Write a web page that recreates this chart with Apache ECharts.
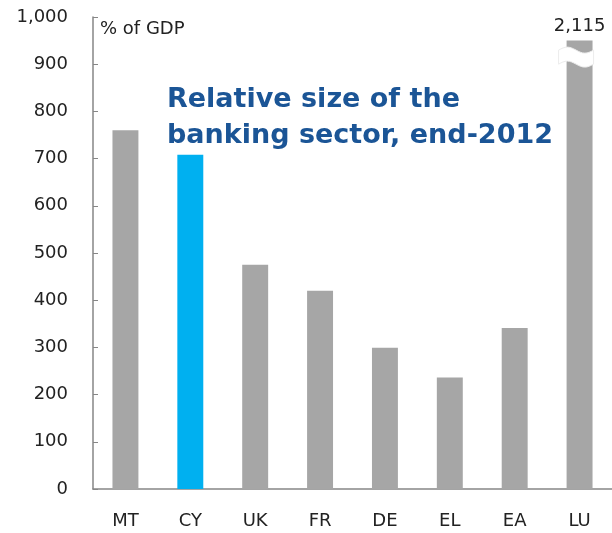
<!DOCTYPE html>
<html>
<head>
<meta charset="utf-8">
<script src="https://cdn.jsdelivr.net/npm/echarts@6/dist/echarts.min.js"></script>
<style>
html,body{margin:0;padding:0;background:#fff;}
#chart{width:612px;height:533px;}
</style>
</head>
<body>
<div id="chart"></div>
<script>
// Data
var categories = ['MT', 'CY', 'UK', 'FR', 'DE', 'EL', 'EA', 'LU'];
var shownValues = [760, 708, 475, 420, 299, 236, 341, 950]; // LU is truncated at the axis break
var actualValues = [760, 708, 475, 420, 299, 236, 341, 2115];
var highlighted = 'CY';
var yTicks = { min: 0, max: 1000, interval: 100 };
var titleText = 'Relative size of the\nbanking sector, end-2012';
var unitText = '% of GDP';

var labelFont = 'DejaVu Sans';
var chart = echarts.init(document.getElementById('chart'), null, { renderer: 'canvas' });

var barData = categories.map(function (c, i) {
  var item = { value: shownValues[i] };
  if (c === highlighted) item.itemStyle = { color: '#00b0f0' };
  if (actualValues[i] !== shownValues[i]) {
    item.label = {
      show: true, position: 'top', distance: 5,
      formatter: actualValues[i].toLocaleString('en-US'),
      fontFamily: labelFont, fontSize: 18, color: '#222'
    };
  }
  return item;
});

var unitGraphic = {
  type: 'text', left: 100, top: 20,
  style: { text: unitText, fontFamily: labelFont, fontSize: 18, fill: '#222' }
};

chart.setOption({
  animation: false,
  backgroundColor: '#ffffff',
  title: {
    text: titleText,
    left: 167, top: 82, padding: 0,
    textStyle: {
      fontFamily: 'DejaVu Sans', fontWeight: 'bold', fontSize: 27,
      color: '#1b5596', lineHeight: 36
    }
  },
  grid: { left: 93, right: -5, top: 17, bottom: 44, containLabel: false },
  xAxis: {
    type: 'category',
    data: categories,
    boundaryGap: true,
    axisLine: { lineStyle: { color: '#868686', width: 1.5 } },
    axisTick: { inside: true, length: 5, lineStyle: { color: '#868686' } },
    axisLabel: { margin: 23, fontFamily: labelFont, fontSize: 18, color: '#222' }
  },
  yAxis: {
    type: 'value',
    min: yTicks.min, max: yTicks.max, interval: yTicks.interval,
    axisLine: { show: true, lineStyle: { color: '#868686', width: 1.5 } },
    axisTick: { show: true, inside: true, length: 5, lineStyle: { color: '#868686' } },
    splitLine: { show: false },
    axisLabel: {
      margin: 25, fontFamily: labelFont, fontSize: 18, color: '#222',
      formatter: function (v) { return v.toLocaleString('en-US'); }
    }
  },
  graphic: [unitGraphic],
  series: [{
    type: 'bar',
    data: barData,
    barWidth: '40%',
    itemStyle: { color: '#a6a6a6' }
  }]
});

// Axis-break marker over the truncated LU bar, positioned through the axis scales
(function () {
  var idx = -1;
  for (var i = 0; i < actualValues.length; i++) if (actualValues[i] !== shownValues[i]) idx = i;
  if (idx < 0) return;
  var c = chart.convertToPixel({ gridIndex: 0 }, [idx, 915]);
  var bw = 26;
  var x0 = c[0] - bw / 2 - 8, x1 = c[0] + bw / 2 + 1;
  var half = 7, amp = 3, n = 16;
  var pts = [];
  for (var k = 0; k <= n; k++) {
    var x = x0 + (x1 - x0) * k / n;
    pts.push([x, c[1] - half - amp * Math.sin(2 * Math.PI * k / n)]);
  }
  for (var k2 = n; k2 >= 0; k2--) {
    var x2 = x0 + (x1 - x0) * k2 / n;
    pts.push([x2, c[1] + half - amp * Math.sin(2 * Math.PI * k2 / n)]);
  }
  chart.setOption({
    graphic: [unitGraphic, {
      type: 'polygon',
      shape: { points: pts },
      style: { fill: '#ffffff', stroke: '#ececec', lineWidth: 1 },
      z: 100
    }]
  });
})();
</script>
</body>
</html>
